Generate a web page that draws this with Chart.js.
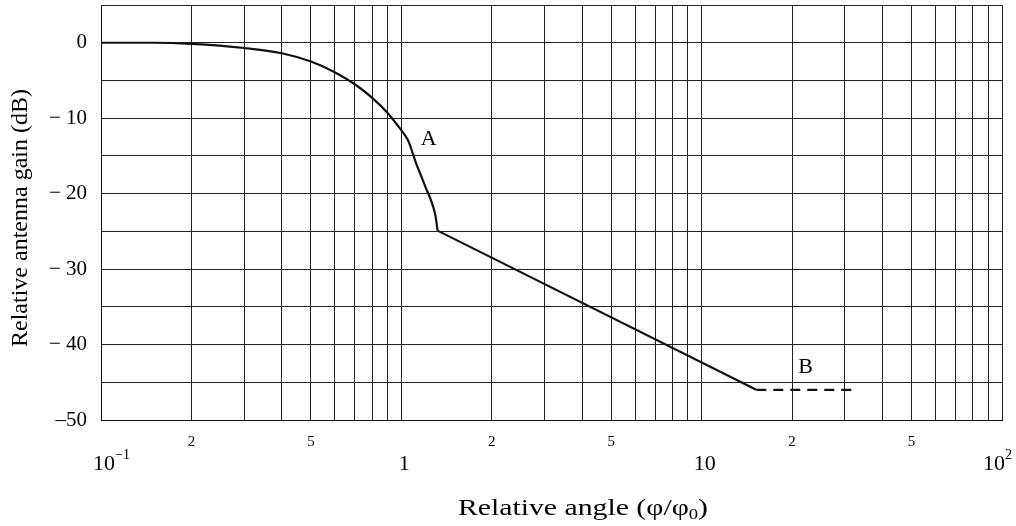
<!DOCTYPE html>
<html>
<head>
<meta charset="utf-8">
<script src="https://cdn.jsdelivr.net/npm/chart.js@4/dist/chart.umd.min.js"></script>
<style>
  body { margin: 0; background: #fff; }
</style>
</head>
<body>
<canvas id="myChart" width="1016" height="526"></canvas>
<script>
// values
const curveX = [0.1, 0.15, 0.2, 0.3, 0.4, 0.5, 0.6, 0.7, 0.8, 0.9, 1.0, 1.03, 1.06, 1.09, 1.12, 1.16, 1.2, 1.25, 1.28, 1.30, 1.32];
const curveY = [0, 0, -0.15, -0.7, -1.4, -2.5, -3.9, -5.5, -7.3, -9.3, -11.6, -12.3, -13.2, -14.6, -16, -17.5, -19.0, -20.7, -21.9, -23.0, -24.9];
const slopeX = [1.32, 15.2];
const slopeY = [-24.9, -46];
const floorX = [15.2, 33];
const floorY = [-46, -46];

const xGrid = [0.1, 0.2, 0.3, 0.4, 0.5, 0.6, 0.7, 0.8, 0.9, 1, 2, 3, 4, 5, 6, 7, 8, 9, 10, 20, 30, 40, 50, 60, 70, 80, 90, 100];
const xSmallLabels = [[0.2, '2'], [0.5, '5'], [2, '2'], [5, '5'], [20, '2'], [50, '5']];
const xBigLabels = [[0.1, '10', '\u22121'], [1, '1', ''], [10, '10', ''], [100, '10', '2']];
const yLabels = {'0': '0', '-10': '\u2212 10', '-20': '\u2212 20', '-30': '\u2212 30', '-40': '\u2212 40', '-50': '\u201350'};
const notes = [['A', 1.233, -12.8], ['B', 22.2, -43.0]];
const xTitle = ['Relative angle (\u03c6/\u03c6', '0', ')'];
const yTitle = 'Relative antenna gain (dB)';

const serif = '"Liberation Serif", "Times New Roman", serif';

function pts(xs, ys) {
  return xs.map((x, i) => ({x: x, y: ys[i]}));
}

const textPlugin = {
  id: 'texts',
  afterDraw(chart) {
    const c = chart.ctx;
    const xs = chart.scales.x, ys = chart.scales.y;
    c.save();
    c.fillStyle = '#000';
    c.textBaseline = 'middle';
    c.textAlign = 'center';
    c.font = '15px ' + serif;
    xSmallLabels.forEach(l => c.fillText(l[1], xs.getPixelForValue(l[0]), 442));
    xBigLabels.forEach((l, i) => {
      const px = xs.getPixelForValue(l[0]);
      c.font = '22px ' + serif;
      const w = c.measureText(l[1]).width;
      c.font = '14px ' + serif;
      const ws = l[2] ? c.measureText(l[2]).width : 0;
      // last label is pulled in so it stays inside the canvas
      let left = i === xBigLabels.length - 1 ? px + 10 - w - ws : px + 3 - w / 2;
      c.textAlign = 'left';
      c.font = '22px ' + serif;
      c.fillText(l[1], left, 464);
      if (l[2]) {
        c.font = '14px ' + serif;
        c.fillText(l[2], left + w, 455);
      }
    });
    c.textAlign = 'center';
    c.font = '22px ' + serif;
    notes.forEach(n => c.fillText(n[0], xs.getPixelForValue(n[1]), ys.getPixelForValue(n[2])));

    // x axis title with subscript
    c.font = '24px ' + serif;
    const w1 = c.measureText(xTitle[0]).width, w3 = c.measureText(xTitle[2]).width;
    c.font = '15px ' + serif;
    const w2 = c.measureText(xTitle[1]).width;
    const sx = 250 / (w1 + w2 + w3);
    c.save();
    c.translate(458, 509);
    c.scale(sx, 1);
    c.textAlign = 'left';
    c.font = '24px ' + serif;
    c.fillText(xTitle[0], 0, 0);
    c.font = '15px ' + serif;
    c.fillText(xTitle[1], w1, 6);
    c.font = '24px ' + serif;
    c.fillText(xTitle[2], w1 + w2, 0);
    c.restore();

    // y axis title
    c.translate(21, 218);
    c.rotate(-Math.PI / 2);
    c.textAlign = 'center';
    c.font = '24px ' + serif;
    c.fillText(yTitle, 0, 0);
    c.restore();
  }
};

const ctx = document.getElementById('myChart').getContext('2d');
const myChart = new Chart(ctx, {
  type: 'scatter',
  data: {
    datasets: [
      {
        data: pts(curveX, curveY),
        showLine: true,
        borderColor: '#111',
        borderWidth: 2.2,
        pointRadius: 0,
        cubicInterpolationMode: 'monotone'
      },
      {
        data: pts(slopeX, slopeY),
        showLine: true,
        borderColor: '#111',
        borderWidth: 2.2,
        pointRadius: 0
      },
      {
        data: pts(floorX, floorY),
        showLine: true,
        borderColor: '#111',
        borderWidth: 2.2,
        borderDash: [10, 7],
        pointRadius: 0
      }
    ]
  },
  options: {
    responsive: false,
    animation: false,
    devicePixelRatio: 1,
    layout: { padding: { top: 5, right: 14, left: 0, bottom: 0 } },
    plugins: { legend: { display: false }, tooltip: { enabled: false } },
    scales: {
      x: {
        type: 'logarithmic',
        min: 0.1,
        max: 100,
        afterBuildTicks: s => { s.ticks = xGrid.map(v => ({value: v})); },
        afterFit: s => { s.height = 106; s.paddingLeft = 0; s.paddingRight = 0; },
        ticks: { display: false },
        grid: { color: '#222', lineWidth: 1, drawTicks: false },
        border: { color: '#111', width: 1 }
      },
      y: {
        min: -50,
        max: 5,
        afterFit: s => { s.width = 101; s.paddingTop = 0; s.paddingBottom = 0; },
        ticks: {
          stepSize: 5,
          padding: 14,
          color: '#000',
          font: { family: serif, size: 21 },
          callback: v => (v % 10 === 0 ? yLabels[String(v)] : '')
        },
        grid: { color: '#222', lineWidth: 1, drawTicks: false },
        border: { color: '#111', width: 1 }
      }
    }
  },
  plugins: [textPlugin]
});
</script>
</body>
</html>
